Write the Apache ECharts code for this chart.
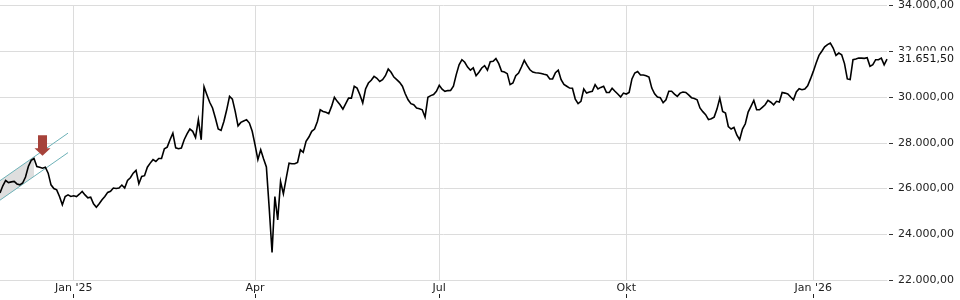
<!DOCTYPE html>
<html><head><meta charset="utf-8">
<script src="https://cdn.jsdelivr.net/npm/echarts@6/dist/echarts.min.js"></script>
<style>html,body{margin:0;padding:0;background:#fff}#c{width:960px;height:300px}</style>
</head><body><div id="c"></div>
<script>
// trading-day categories (weekdays) from 2024-11-26
const categories = [];
(function(){ let d = Date.UTC(2024,10,26); while (categories.length < 314) { const dt = new Date(d); const wd = dt.getUTCDay(); if (wd !== 0 && wd !== 6) categories.push(dt.toISOString().slice(0,10)); d += 86400000; } })();

const tickDates  = ['2025-01-01','2025-04-01','2025-07-01','2025-10-01','2026-01-01'];
const tickLabels = ["Jan '25", 'Apr', 'Jul', 'Okt', "Jan '26"];

const yTicks = [22000, 24000, 26000, 28000, 30000, 32000, 34000];
const lastValue = 31651.5;

const prices = [
25800,26120,26350,26260,26290,26310,26200,26160,26240,26500,
26960,27230,27310,26960,26930,26890,26930,26670,26160,26000,
25940,25650,25290,25650,25720,25650,25680,25650,25750,25870,
25720,25590,25620,25330,25180,25330,25510,25650,25830,25880,
26020,26000,26020,26150,26020,26350,26470,26670,26790,26210,
26530,26560,26930,27110,27260,27180,27310,27310,27740,27810,
28130,28420,27780,27740,27770,28130,28390,28600,28500,28230,
29010,28130,30450,30100,29770,29520,29080,28600,28540,28930,
29440,30030,29910,29370,28740,28890,28950,29010,28860,28500,
27910,27260,27690,27300,26940,25140,23200,25650,24630,26300,
25770,26450,27110,27080,27080,27140,27690,27580,28060,28250,
28500,28600,28930,29440,29370,29330,29270,29590,29990,29810,
29660,29470,29710,29950,29950,30470,30390,30100,29740,30350,
30610,30730,30900,30820,30680,30760,30930,31220,31080,30870,
30760,30640,30470,30140,29880,29710,29660,29520,29490,29440,
29120,29990,30060,30110,30250,30510,30340,
30250,30280,30290,30470,30980,31410,31630,31520,31310,31170,
31270,30930,31080,31270,31370,31170,31540,31560,31680,31460,
31120,31090,31020,30540,30610,30930,31050,31310,31600,31380,
31190,31090,31060,31050,31030,30990,30960,30790,30790,31060,
31170,30760,30550,30470,30390,30380,29910,29710,29810,30350,
30170,30220,30250,30540,30350,30420,30470,30200,30200,30380,
30250,30130,30000,30170,30130,30200,30790,31050,31110,30960,
30960,30930,30870,30390,30140,30000,29970,29750,
29880,30250,30250,30130,30030,30170,30220,30200,30090,29970,
29930,29880,29520,29360,29230,29010,29050,29120,29470,29950,
29370,29300,28710,28600,28670,28340,28130,28600,28830,29340,
29590,29850,29440,29440,29550,29660,29850,29770,29660,29810,
29780,30200,30170,30130,30000,29880,30220,30360,30320,30350,
30490,30790,31120,31490,31820,32000,32190,32290,32360,32140,
31820,31920,31850,31460,30790,30760,31630,31660,31700,31700,
31690,31720,31340,31410,31630,31630,31700,31410,31651.5
];

// channel annotation (index, value)
const channelIdx   = [0, 24];
const channelUpper = [26342, 28419];
const channelLower = [25491, 27568];
const fillIdx   = [0, 12];
const fillUpper = [26342, 27380];
const fillLower = [25491, 26530];
const arrowPos  = [15.3, 27891];

function fmt(v){ const s = Number(v).toFixed(2).split('.'); return s[0].replace(/\B(?=(\d{3})+(?!\d))/g,'.') + ',' + s[1]; }
const isTick = (i, v) => tickDates.indexOf(v) >= 0;
const FONT = 'DejaVu Sans';

const chart = echarts.init(document.getElementById('c'), null, {renderer:'canvas'});
chart.setOption({
  animation: false,
  backgroundColor: '#fff',
  grid: { left: 0, right: 73, top: 5, bottom: 20 },
  xAxis: [{
    type: 'category', data: categories, boundaryGap: false,
    axisLine: { show: true, lineStyle: { color: '#dcdcdc', width: 1 } },
    axisTick: { show: false },
    axisLabel: { interval: isTick, formatter: v => tickLabels[tickDates.indexOf(v)], color: '#222', fontFamily: FONT, fontSize: 11, margin: 3, hideOverlap: false },
    splitLine: { show: true, interval: isTick, lineStyle: { color: '#dcdcdc', width: 1 } }
  }, {
    type: 'category', data: categories, boundaryGap: false, position: 'bottom', offset: 14,
    axisLine: { show: false },
    axisTick: { show: true, interval: isTick, length: 4, lineStyle: { color: '#222' } },
    axisLabel: { show: false }, splitLine: { show: false }
  }],
  yAxis: [{
    type: 'value', position: 'right', min: yTicks[0], max: yTicks[yTicks.length-1], interval: 2000, offset: 2,
    axisLine: { show: false },
    axisTick: { show: true, length: 4, lineStyle: { color: '#333' } },
    axisLabel: { formatter: fmt, color: '#222', fontFamily: FONT, fontSize: 11, margin: 9 },
    splitLine: { show: true, lineStyle: { color: '#dcdcdc', width: 1 } }
  }, {
    type: 'value', position: 'right', min: yTicks[0], max: yTicks[yTicks.length-1], offset: 2, z: 5,
    axisLine: { show: false }, axisTick: { show: false }, splitLine: { show: false },
    axisLabel: { customValues: [lastValue], formatter: fmt, color: '#111', fontFamily: FONT, fontSize: 11, margin: 8,
      backgroundColor: '#fff', padding: [3, 1, 3, 1] }
  }],
  series: [
    {
      type: 'custom', silent: true, z: 1,
      data: [0],
      renderItem: (params, api) => {
        const pts = [
          api.coord([fillIdx[0], fillUpper[0]]), api.coord([fillIdx[1], fillUpper[1]]),
          api.coord([fillIdx[1], fillLower[1]]), api.coord([fillIdx[0], fillLower[0]])
        ];
        return { type: 'polygon', shape: { points: pts }, style: { fill: '#dedede' } };
      }
    },
    { type: 'line', silent: true, symbol: 'none', z: 2, data: channelIdx.map((x, k) => [x, channelUpper[k]]), lineStyle: { color: '#6db1b7', width: 1 } },
    { type: 'line', silent: true, symbol: 'none', z: 2, data: channelIdx.map((x, k) => [x, channelLower[k]]), lineStyle: { color: '#6db1b7', width: 1 } },
    { type: 'line', symbol: 'none', z: 4, data: prices, lineStyle: { color: '#000', width: 1.6, join: 'miter' } },
    {
      type: 'custom', silent: true, z: 6,
      data: [arrowPos],
      renderItem: (params, api) => {
        const c = api.coord([api.value(0), api.value(1)]);
        const x = c[0], y = c[1];
        const pts = [[x-4.5,y-10],[x+4.5,y-10],[x+4.5,y+3],[x+8,y+3],[x,y+10.5],[x-8,y+3],[x-4.5,y+3]];
        return { type: 'polygon', shape: { points: pts }, style: { fill: '#a6423a' } };
      }
    }
  ]
});
</script></body></html>
